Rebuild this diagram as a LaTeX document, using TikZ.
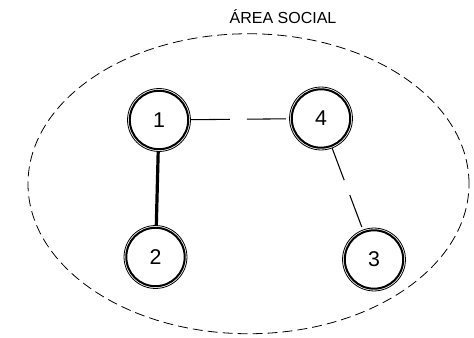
\documentclass[tikz,border=0pt]{standalone}
\usepackage{fontspec}
\setmainfont{Liberation Sans}
\usetikzlibrary{shapes.geometric}
\tikzset{
  vertex/.style={circle, draw, line width=0.6pt, minimum size=47.2pt, inner sep=0pt,
    font=\fontsize{16}{19}\selectfont,
    path picture={\draw[line width=1.5pt] (path picture bounding box.center) circle (21.9pt);}},
  area/.style={ellipse, draw, line width=0.6pt, dash pattern=on 7.5pt off 3.75pt,
    minimum width=330.75pt, minimum height=225pt, inner sep=0pt},
  thin edge/.style={line width=0.8pt},
  strong edge/.style={line width=2.4pt},
  title/.style={font=\fontsize{12}{14}\selectfont}
}
\begin{document}
\begin{tikzpicture}[x=0.75pt, y=-0.75pt]
\useasboundingbox (0,0) rectangle (474,338);
\node[area] (zone) at (248.5,183.75) {};
\node[title] (label) at (283,17) {ÁREA SOCIAL};
\node[vertex] (n1) at (159,120) {1};
\node[vertex] (n4) at (321,118.5) {4};
\node[vertex] (n2) at (155.5,257) {2};
\node[vertex] (n3) at (374,259.5) {3};
\draw[strong edge] (n1) -- (n2);
\draw[thin edge, dash pattern=on 29.25pt off 12.75pt] (n1) -- (n4);
\draw[thin edge, dash pattern=on 25.5pt off 12pt] (n4) -- (n3);
\end{tikzpicture}
\end{document}
